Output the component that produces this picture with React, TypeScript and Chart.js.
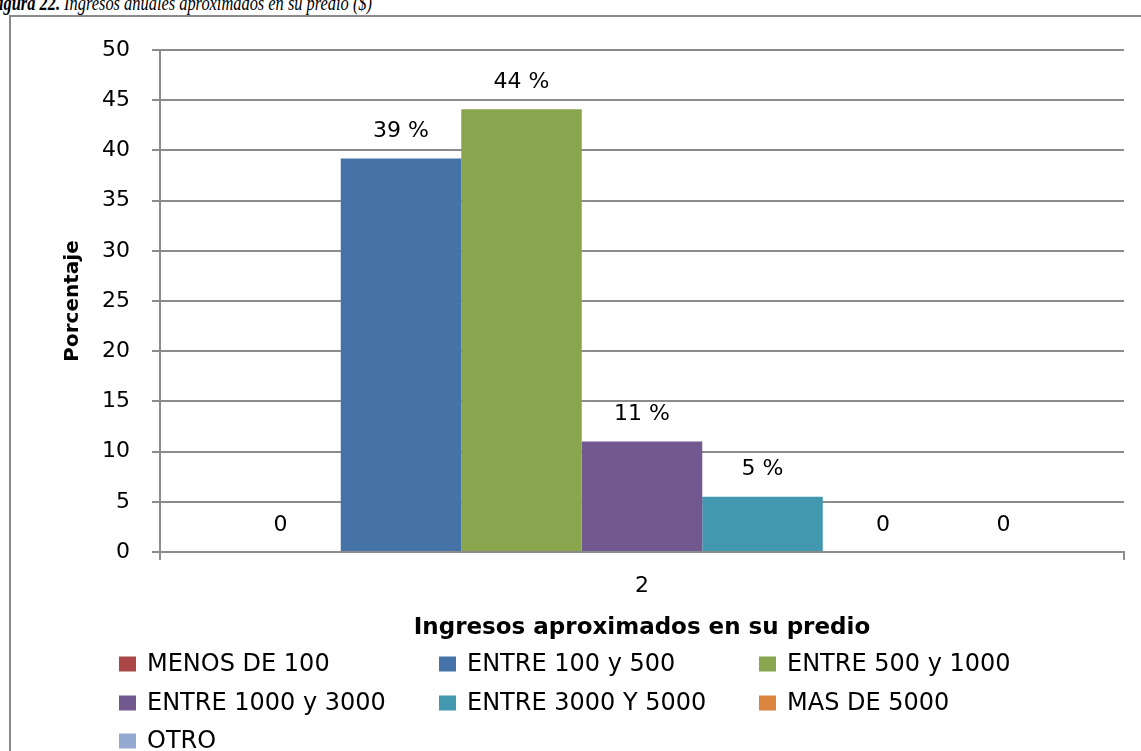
import React, { useEffect, useRef } from "react";
import { Chart, registerables } from "chart.js";

Chart.register(...registerables);

// ---- data ----
const categories = ["2"];
const seriesNames = [
  "MENOS DE 100",
  "ENTRE 100 y 500",
  "ENTRE 500 y 1000",
  "ENTRE 1000 y 3000",
  "ENTRE 3000 Y 5000",
  "MAS DE 5000",
  "OTRO",
];
const seriesValues = [0, 39.2, 44.1, 11.0, 5.5, 0, 0];
const seriesLabels = ["0", "39 %", "44 %", "11 %", "5 %", "0", "0"];
const seriesColors = ["#AA4643", "#4572A7", "#89A54E", "#71588F", "#4198AF", "#DB843D", "#93A9CF"];
const yMin = 0;
const yMax = 50;
const yStep = 5;
const yTitle = "Porcentaje";
const xTitle = "Ingresos aproximados en su predio";
const figureTitleBold = "Figura 22.";
const figureTitleRest = " Ingresos anuales aproximados en su predio ($)";

const FONT = "'DejaVu Sans', Verdana, sans-serif";
const GRID = "#8C8C8C";

const valueLabelPlugin = {
  id: "valueLabels",
  afterDatasetsDraw(chart: any) {
    const ctx = chart.ctx;
    ctx.save();
    ctx.font = `22px ${FONT}`;
    ctx.fillStyle = "#000";
    ctx.textAlign = "center";
    ctx.textBaseline = "middle";
    chart.data.datasets.forEach((ds: any, i: number) => {
      const meta = chart.getDatasetMeta(i);
      meta.data.forEach((el: any) => {
        ctx.fillText(ds.valueLabel, el.x, el.y - 27);
      });
    });
    ctx.restore();
  },
};

const gridLegendPlugin = {
  id: "gridLegend",
  afterDraw(chart: any) {
    const ctx = chart.ctx;
    const colX = [119, 439, 759];
    const rowY = [664, 703, 741];
    ctx.save();
    ctx.font = `24px ${FONT}`;
    ctx.textAlign = "left";
    ctx.textBaseline = "middle";
    chart.data.datasets.forEach((ds: any, i: number) => {
      const x = colX[i % 3];
      const y = rowY[Math.floor(i / 3)];
      ctx.fillStyle = ds.backgroundColor;
      ctx.fillRect(x, y - 7.5, 17, 15);
      ctx.fillStyle = "#000";
      ctx.fillText(ds.label, x + 28, y + 1);
    });
    ctx.restore();
  },
};

export default function App() {
  const ref = useRef<HTMLCanvasElement | null>(null);

  useEffect(() => {
    if (!ref.current) return;
    const chart = new Chart(ref.current, {
      type: "bar",
      data: {
        labels: categories,
        datasets: seriesNames.map((name, i) => ({
          label: name,
          data: [seriesValues[i]],
          backgroundColor: seriesColors[i],
          borderWidth: 0,
          barPercentage: 1,
          categoryPercentage: 0.875,
          valueLabel: seriesLabels[i],
        })) as any,
      },
      options: {
        animation: false,
        responsive: false,
        devicePixelRatio: 1,
        layout: { padding: { top: 50, right: 17, bottom: 109, left: 0 } },
        plugins: {
          legend: { display: false },
          tooltip: { enabled: false },
          title: { display: false },
        },
        scales: {
          x: {
            offset: true,
            grid: {
              display: true,
              drawOnChartArea: false,
              drawTicks: true,
              tickLength: 8,
              color: GRID,
              lineWidth: 2,
              offset: true,
            },
            border: { display: true, color: GRID, width: 2 },
            ticks: { color: "#000", font: { family: FONT, size: 22 }, padding: 13 },
            title: {
              display: true,
              text: xTitle,
              color: "#000",
              font: { family: FONT, size: 23, weight: "bold" },
              padding: { top: 2, bottom: 0 },
            },
          },
          y: {
            min: yMin,
            max: yMax,
            ticks: {
              stepSize: yStep,
              color: "#000",
              font: { family: FONT, size: 22 },
              padding: 22,
            },
            grid: { color: GRID, lineWidth: 2, tickLength: 8, drawTicks: true },
            border: { display: true, color: GRID, width: 2 },
            title: {
              display: true,
              text: yTitle,
              color: "#000",
              font: { family: FONT, size: 20, weight: "bold" },
              padding: { top: 61, bottom: 0 },
            },
            afterFit(scale: any) {
              scale.width = 160;
            },
          },
        },
      } as any,
      plugins: [valueLabelPlugin, gridLegendPlugin],
    });
    return () => chart.destroy();
  }, []);

  return (
    <div
      style={{
        position: "absolute",
        left: 0,
        top: 0,
        width: 1141,
        height: 751,
        overflow: "hidden",
        background: "#fff",
      }}
    >
      <div
        style={{
          position: "absolute",
          left: -12,
          top: -9,
          whiteSpace: "nowrap",
          fontFamily: "'Liberation Serif', 'Times New Roman', serif",
          fontStyle: "italic",
          fontSize: 20,
          lineHeight: "24px",
          color: "#000",
          transform: "scaleX(0.82)",
          transformOrigin: "0 0",
        }}
      >
        <b>{figureTitleBold}</b>
        {figureTitleRest}
      </div>
      <div
        style={{
          position: "absolute",
          left: 9,
          top: 15,
          width: 1200,
          height: 800,
          borderLeft: "2px solid #8A8A8A",
          borderTop: "2px solid #8A8A8A",
        }}
      />
      <canvas
        ref={ref}
        width={1141}
        height={751}
        style={{ position: "absolute", left: 0, top: 0, width: 1141, height: 751 }}
      />
    </div>
  );
}
